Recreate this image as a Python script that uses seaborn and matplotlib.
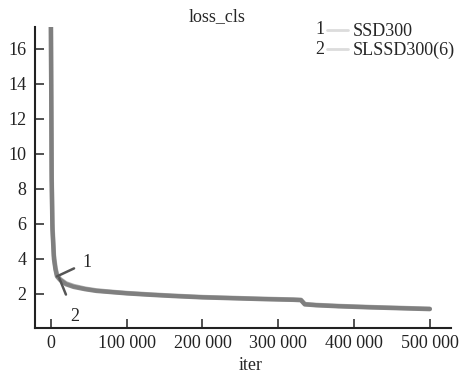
import pandas as pd
import seaborn as sns
import matplotlib.pyplot as plt
from matplotlib.lines import Line2D

# значения
iters = [0, 1000, 2000, 4000, 6000, 8000, 12000, 20000, 30000, 45000, 60000,
         80000, 100000, 130000, 160000, 200000, 240000, 280000, 320000,
         330000, 335000, 350000, 380000, 420000, 460000, 500000]
loss_ssd300 = [17.3, 9.0, 6.0, 4.2, 3.5, 3.1, 2.85, 2.6, 2.45, 2.3, 2.2,
               2.12, 2.05, 1.97, 1.9, 1.82, 1.77, 1.72, 1.68,
               1.66, 1.42, 1.37, 1.31, 1.25, 1.2, 1.15]
loss_slssd300 = [17.3, 8.5, 5.7, 4.0, 3.4, 3.0, 2.8, 2.55, 2.4, 2.27, 2.17,
                 2.1, 2.03, 1.95, 1.88, 1.8, 1.75, 1.7, 1.66,
                 1.64, 1.4, 1.35, 1.29, 1.23, 1.18, 1.13]
series_names = ['SSD300', 'SLSSD300(6)']
x_ticks = [0, 100000, 200000, 300000, 400000, 500000]
x_tick_labels = ['0', '100 000', '200 000', '300 000', '400 000', '500 000']
y_ticks = [2, 4, 6, 8, 10, 12, 14, 16]

df = pd.concat([
    pd.DataFrame({'iter': iters, 'loss': loss_ssd300, 'model': series_names[0]}),
    pd.DataFrame({'iter': iters, 'loss': loss_slssd300, 'model': series_names[1]}),
])

sns.set_style('ticks')
plt.rcParams['font.family'] = ['Liberation Serif', 'DejaVu Serif']
fs = 13

W, H = 461, 374
fig = plt.figure(figsize=(W / 100, H / 100), dpi=100)
ax = fig.add_axes([35 / W, 1 - 328 / H, 416 / W, 301 / H])

sns.lineplot(data=df, x='iter', y='loss', hue='model',
             palette=['#a0a0a0', '#777777'], linewidth=3.2, alpha=0.85,
             legend=False, ax=ax)

ax.set_xlim(-21000, 528000)
ax.set_ylim(0.05, 17.25)
ax.set_xticks(x_ticks)
ax.set_xticklabels(x_tick_labels)
ax.set_yticks(y_ticks)
ax.tick_params(direction='in', length=6.5, width=1.1, colors='#222',
               labelcolor='#222', labelsize=fs)
ax.tick_params(axis='x', pad=5)
ax.tick_params(axis='y', pad=6)
for side in ['top', 'right']:
    ax.spines[side].set_visible(False)
for side in ['left', 'bottom']:
    ax.spines[side].set_linewidth(1.5)
    ax.spines[side].set_color('#222')

ax.set_xlabel('iter', fontsize=fs)
ax.set_ylabel('')
ax.xaxis.set_label_coords(0.519, -0.095)

fig.text(217 / W, 1 - 17 / H, 'loss_cls', ha='center', va='center', fontsize=fs)

# подписи 1 и 2 у кривых
ax.annotate('1', xy=(8000, 3.0), xytext=(47500, 3.8), ha='center', va='center',
            fontsize=fs, arrowprops=dict(arrowstyle='-', color='#555', lw=1.8,
                                         shrinkA=4, shrinkB=0))
ax.annotate('2', xy=(11000, 2.9), xytext=(31700, 0.7), ha='center', va='center',
            fontsize=fs, arrowprops=dict(arrowstyle='-', color='#555', lw=1.8,
                                         shrinkA=8, shrinkB=0))

handles = [Line2D([], [], color='#dcdcdc', lw=2), Line2D([], [], color='#dcdcdc', lw=2)]
fig.legend(handles, series_names, loc='upper left',
           bbox_to_anchor=(327 / W, 1 - 23 / H), frameon=False, borderpad=0,
           borderaxespad=0, handlelength=1.15, handletextpad=0.3,
           labelspacing=0.12, fontsize=fs)
fig.text(320 / W, 1 - 30 / H, '1', ha='center', va='center', fontsize=fs)
fig.text(320 / W, 1 - 50 / H, '2', ha='center', va='center', fontsize=fs)

fig.savefig('out.png', dpi=100, facecolor='white')
